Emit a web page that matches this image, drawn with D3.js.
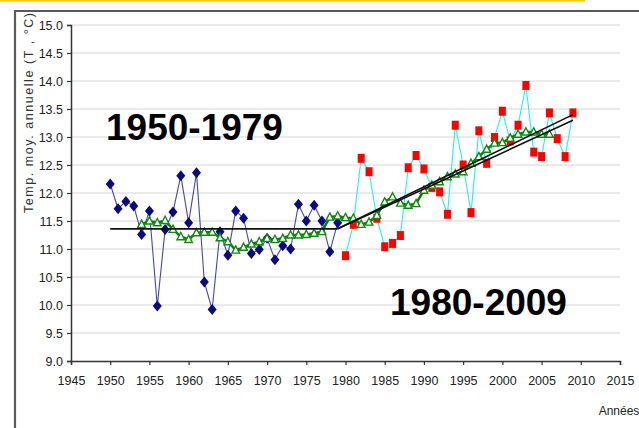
<!DOCTYPE html>
<html><head><meta charset="utf-8">
<script src="https://cdn.jsdelivr.net/npm/d3@7"></script>
<style>
html,body{margin:0;padding:0;background:#fff;}
svg{display:block;font-family:"Liberation Sans",Arial,sans-serif;}
</style></head>
<body>
<svg id="c" width="639" height="428"></svg>
<script>
// ---- data ----
const years1 = d3.range(1950, 1980);
const temps1 = [12.16,11.72,11.85,11.77,11.26,11.68,9.98,11.35,11.66,12.31,
                11.47,12.36,10.41,9.92,11.31,10.89,11.68,11.55,10.92,10.99,
                11.19,10.81,11.06,11.00,11.80,11.50,11.78,11.50,10.95,11.47];
const years2 = d3.range(1980, 2010);
const temps2 = [10.88,11.44,12.62,12.38,11.55,11.04,11.10,11.24,12.45,12.67,
                12.43,12.10,12.02,11.62,13.21,12.50,11.65,13.11,12.53,12.99,
                13.46,12.93,13.21,13.92,12.73,12.65,13.43,12.97,12.65,13.43];
const yearsAvg = d3.range(1954, 2007);
const tempsAvg = [11.44,11.50,11.47,11.51,11.35,11.22,11.17,11.29,11.30,11.30,
                  11.20,11.13,10.98,11.03,11.09,11.13,11.19,11.17,11.19,11.25,
                  11.25,11.26,11.28,11.31,11.57,11.59,11.56,11.55,11.44,11.48,
                  11.60,11.84,11.93,11.82,11.78,11.81,12.05,12.14,12.20,12.29,
                  12.34,12.38,12.53,12.65,12.78,12.89,12.90,12.98,13.05,13.09,
                  13.09,13.05,13.05];
const meanYears = [1950, 1979];
const meanTemps = [11.36, 11.36];
const trendYears = [1979, 2009];
const trendA = [11.36, 13.40];
const trendB = [11.36, 13.30];
const xTicks = d3.range(1945, 2016, 5);
const yTicks = d3.range(9, 15.01, 0.5);
const periodLabels = ["1950-1979", "1980-2009"];
const yTitle = "Temp. moy. annuelle (T , °C)";
const xTitle = "Années";

// ---- chart ----
const svg = d3.select("#c");
const x = d3.scaleLinear().domain([1945, 2015]).range([71, 620]);
const y = d3.scaleLinear().domain([9, 15]).range([361, 25]);

// top yellow rule & frame
svg.append("rect").attr("x",0).attr("y",0).attr("width",585).attr("height",1.6).attr("fill","#f7cf00");
svg.append("path").attr("d","M15,440 L15,11 L650,11").attr("fill","none").attr("stroke","#5a5a5a").attr("stroke-width",2.2);

svg.append("defs").append("clipPath").attr("id","fr")
  .append("rect").attr("x",16).attr("y",12).attr("width",640).attr("height",430);
const g = svg.append("g").attr("clip-path","url(#fr)");

// gridlines
g.append("g").selectAll("line").data(yTicks.filter(v=>v>9.01)).join("line")
  .attr("x1",x(1945)).attr("x2",x(2015)).attr("y1",d=>y(d)).attr("y2",d=>y(d))
  .attr("stroke","#e3e3e3").attr("stroke-width",1.5);

// axes
const yAxis = g.append("g").attr("transform",`translate(${x(1945)},0)`)
  .call(d3.axisLeft(y).tickValues(yTicks).tickFormat(d3.format(".1f")).tickSize(4).tickPadding(4));
const xAxis = g.append("g").attr("transform",`translate(0,${y(9)})`)
  .call(d3.axisBottom(x).tickValues(xTicks).tickFormat(d3.format("d")).tickSize(4).tickPadding(11));
[yAxis,xAxis].forEach(a=>{
  a.select(".domain").attr("stroke","#333").attr("stroke-width",1.5);
  a.selectAll(".tick line").attr("stroke","#333").attr("stroke-width",1.2);
  a.selectAll("text").attr("fill","#222").style("font-size","12.5px").style("font-family","'Liberation Sans',Arial,sans-serif");
});

// y title
g.append("text").attr("transform","translate(33,213) rotate(-90)")
  .attr("text-anchor","start").attr("fill","#333").style("font-size","12.5px")
  .attr("textLength",200).attr("lengthAdjust","spacing").text(yTitle);
// x title
g.append("text").attr("x",619).attr("y",415).attr("text-anchor","middle")
  .attr("fill","#222").style("font-size","12px").text(xTitle);

const d1 = years1.map((yr,i)=>[yr,temps1[i]]);
const d2 = years2.map((yr,i)=>[yr,temps2[i]]);
const dA = yearsAvg.map((yr,i)=>[yr,tempsAvg[i]]);
const line = d3.line().x(d=>x(d[0])).y(d=>y(d[1]));

// series 1 (blue diamonds)
g.append("path").attr("d",line(d1)).attr("fill","none").attr("stroke","#4646b4").attr("stroke-width",1.1);
g.append("g").selectAll("path").data(d1).join("path")
  .attr("transform",d=>`translate(${x(d[0])},${y(d[1])})`)
  .attr("d","M0,-5.5 L4.5,0 L0,5.5 L-4.5,0 Z").attr("fill","#0a0a80");

// series 2 (red squares, cyan line)
g.append("path").attr("d",line(d2)).attr("fill","none").attr("stroke","#22f0f0").attr("stroke-width",1.1);
g.append("g").selectAll("rect").data(d2).join("rect")
  .attr("x",d=>x(d[0])-3.5).attr("y",d=>y(d[1])-4.5).attr("width",7).attr("height",9).attr("fill","#ff0000");

// moving average (green, open triangles)
g.append("path").attr("d",line(dA)).attr("fill","none").attr("stroke","#0b7d0b").attr("stroke-width",2.5);
g.append("g").selectAll("path").data(dA).join("path")
  .attr("transform",d=>`translate(${x(d[0])},${y(d[1])})`)
  .attr("d","M0,-4.2 L3.8,3 L-3.8,3 Z").attr("fill","#fff").attr("stroke","#0f8a0f").attr("stroke-width",1.4);

// mean & trend lines
g.append("path").attr("d",line(meanYears.map((yr,i)=>[yr,meanTemps[i]]))).attr("fill","none").attr("stroke","#111").attr("stroke-width",1.6);
g.append("path").attr("d",line(trendYears.map((yr,i)=>[yr,trendA[i]]))).attr("fill","none").attr("stroke","#111").attr("stroke-width",1.6);
g.append("path").attr("d",line(trendYears.map((yr,i)=>[yr,trendB[i]]))).attr("fill","none").attr("stroke","#111").attr("stroke-width",1.6);

// period labels
g.append("text").attr("x",106).attr("y",140).attr("fill","#000").style("font-size","37px").style("font-weight","bold").text(periodLabels[0]);
g.append("text").attr("x",390).attr("y",315).attr("fill","#000").style("font-size","37px").style("font-weight","bold").text(periodLabels[1]);
</script>
</body></html>
